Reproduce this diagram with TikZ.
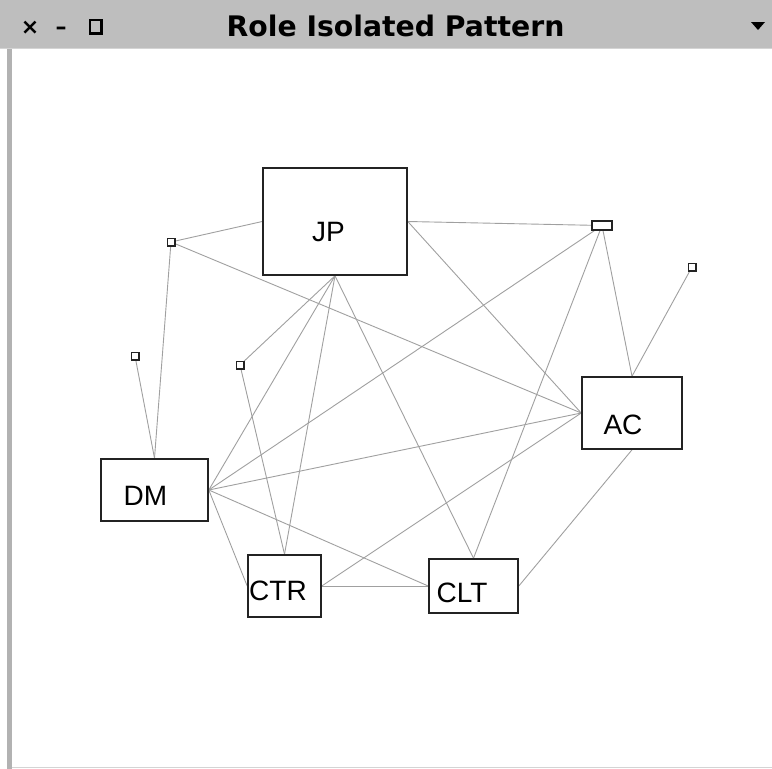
\documentclass[tikz,border=0pt]{standalone}
\usepackage{fontspec}
\setmainfont{Liberation Sans}
\newfontfamily\titlefont{DejaVu Sans}
\pgfdeclarelayer{frame}
\pgfdeclarelayer{links}
\pgfsetlayers{frame,links,main}
\definecolor{barGray}{RGB}{190,190,190}
\definecolor{barEdge}{RGB}{212,212,212}
\definecolor{frameGray}{RGB}{178,178,178}
\definecolor{linkGray}{RGB}{160,160,160}
\definecolor{boxEdge}{RGB}{35,35,35}
\begin{document}
\begin{tikzpicture}[x=1pt,y=-1pt,
  role/.style={draw=boxEdge, line width=1.6pt, fill=white, rectangle, inner sep=0pt},
  rolename/.style={anchor=base, inner sep=0pt, font=\fontsize{28}{28}\selectfont},
  port/.style={draw=boxEdge, line width=1.5pt, fill=white, rectangle, inner sep=0pt,
               minimum width=7.5pt, minimum height=7.5pt},
  link/.style={draw=linkGray, line width=0.9pt},
  btn/.style={font=\titlefont\bfseries\fontsize{22}{22}\selectfont, anchor=base, inner sep=0pt}]
\useasboundingbox (0,0) rectangle (772,769);

% window frame
\begin{pgfonlayer}{frame}
\fill[white] (0,0) rectangle (772,769);
\fill[barGray] (0,0) rectangle (772,48);
\draw[barEdge, line width=1pt] (0,48) -- (772,48);
\fill[frameGray] (7,48.5) rectangle (12,769);
\draw[barEdge, line width=1pt] (12,767.5) -- (772,767.5);
\end{pgfonlayer}

% title bar controls and title
\node[btn] (closeBtn) at (30,34) {×};
\node[btn] (minBtn) at (61,34) {–};
\draw[black, line width=2.2pt] (90,20) rectangle (101.5,33.5);
\node[font=\titlefont\bfseries\fontsize{28.3}{28}\selectfont, anchor=base, inner sep=0pt] (title) at (395.5,36) {Role Isolated Pattern};
\fill[black] (751,22) -- (765,22) -- (758,30) -- cycle;

% role boxes
\node[role, minimum width=144pt, minimum height=107pt] (JP)  at (335,221.5) {};
\node[role, minimum width=107pt, minimum height=62pt]  (DM)  at (154.5,490) {};
\node[role, minimum width=73pt,  minimum height=62pt]  (CTR) at (284.5,586) {};
\node[role, minimum width=89pt,  minimum height=54pt]  (CLT) at (473.5,586) {};
\node[role, minimum width=100pt, minimum height=72pt]  (AC)  at (632,413) {};

\node[rolename] (JPname)  at (328.5,241.7) {JP};
\node[rolename] (DMname)  at (145.5,505.7) {DM};
\node[rolename] (CTRname) at (278,600) {CTR};
\node[rolename] (CLTname) at (462,602.7) {CLT};
\node[rolename] (ACname)  at (623,434) {AC};

% connection ports
\node[port] (p1) at (171,242) {};
\node[port] (p2) at (135,356) {};
\node[port] (p3) at (240,365) {};
\node[port] (p4) at (692,267) {};
\node[port, minimum width=20pt, minimum height=9pt] (p5) at (602,225.5) {};

% links, kept under the boxes
\begin{pgfonlayer}{links}
\draw[link] (p1.center) -- (JP.west);
\draw[link] (p1.center) -- (AC.west);
\draw[link] (p1.center) -- (DM.north);
\draw[link] (p2.center) -- (DM.north);
\draw[link] (JP.east) -- (p5.center);
\draw[link] (JP.east) -- (AC.west);
\draw[link] (JP.south) -- (p3.center);
\draw[link] (JP.south) -- (DM.east);
\draw[link] (JP.south) -- (CTR.north);
\draw[link] (JP.south) -- (CLT.north);
\draw[link] (p3.center) -- (CTR.north);
\draw[link] (p5.center) -- (DM.east);
\draw[link] (p5.center) -- (CLT.north);
\draw[link] (p5.center) -- (AC.north);
\draw[link] (p4.center) -- (AC.north);
\draw[link] (DM.east) -- (AC.west);
\draw[link] (DM.east) -- (CLT.west);
\draw[link] (DM.east) -- (CTR.west);
\draw[link] (CTR.east) -- (CLT.west);
\draw[link] (CTR.east) -- (AC.west);
\draw[link] (CLT.east) -- (AC.south);
\end{pgfonlayer}
\end{tikzpicture}
\end{document}
